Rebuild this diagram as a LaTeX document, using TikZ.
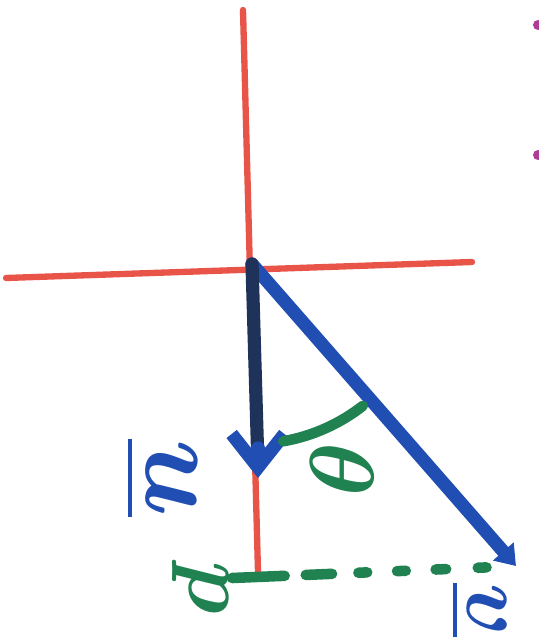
\documentclass[tikz,border=0pt]{standalone}
\usepackage{amsmath,amssymb}
\usepackage{xcolor}
\usepackage{tikz}
\usetikzlibrary{arrows.meta, positioning, calc}

\definecolor{penred}{RGB}{232,84,72}
\definecolor{penblue}{RGB}{32,78,178}
\definecolor{pennavy}{RGB}{30,50,90}
\definecolor{pengreen}{RGB}{32,130,80}
\definecolor{penpink}{RGB}{175,60,150}

\begin{document}
\begin{tikzpicture}[x=0.02cm, y=-0.02cm, line cap=round, line join=round,
    axisline/.style={penred, line width=3.6pt},
    vecline/.style={penblue, line width=7.5pt},
    penlabel/.style={rotate=-90, inner sep=0pt},
    projline/.style={pengreen, line width=6pt,
        dash pattern=on 30pt off 12pt on 15pt off 15pt on 5pt off 17pt on 5pt off 17pt on 6pt off 18pt on 5pt}]

    \useasboundingbox (0,0) rectangle (538,639);

    % Axes
    \coordinate (top) at (243,10);
    \coordinate (bottom) at (258,572);
    \coordinate (left) at (6,278);
    \coordinate (right) at (472,262);
    \draw[axisline] (top) -- (bottom);
    \draw[axisline] (left) -- (right);

    % Vectors
    \coordinate (O) at (252,264);
    \coordinate (U) at (258,478);
    \coordinate (V) at (516,566);
    \draw[vecline, -{Triangle[length=11pt,width=15pt]}] (O) -- (V);
    \draw[vecline, draw=pennavy] (O) -- ($(U)+(0,-12)$);
    \draw[vecline, -{Straight Barb[length=19pt,width=30pt]}] ($(U)+(0,-30)$) -- (U);

    % Angle
    \draw[pengreen, line width=6pt] ([shift={(80:180)}]O) arc[start angle=80, end angle=52, radius=180];
    \node[penlabel, pengreen, scale=5.2] (theta) at (342,470) {$\boldsymbol{\theta}$};

    % Projection
    \coordinate (P) at (232,578);
    \coordinate (Q) at (496,567);
    \draw[projline] (P) -- (Q);
    \node[penlabel, pengreen, scale=5] (p) at (200,588) {$\boldsymbol{p}$};

    % Vector labels
    \node[penlabel, penblue, scale=6.5] (ulabel) at (160,478) {$\boldsymbol{\underline{u}}$};
    \node[penlabel, penblue, scale=5] (vlabel) at (478,610) {$\boldsymbol{\underline{v}}$};

    % Marks at the edge
    \fill[penpink] (538,25) circle (5);
    \fill[penpink] (538,155) circle (5);

\end{tikzpicture}
\end{document}
